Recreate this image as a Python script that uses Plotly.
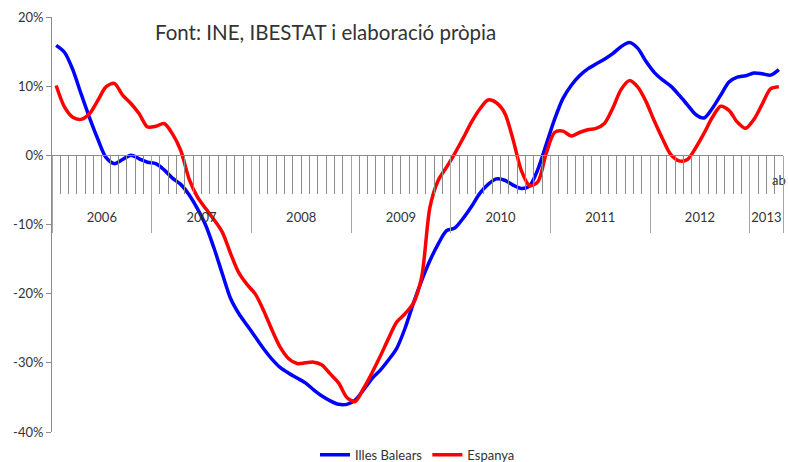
import plotly.graph_objects as go

years = ["2006", "2007", "2008", "2009", "2010", "2011", "2012", "2013"]
months_per_year = [12, 12, 12, 12, 12, 12, 12, 4]
month_labels = [""] * 87 + ["ab"]

illes_balears = [
    15.9, 14.9, 12.4, 8.9, 5.5, 2.4, -0.3, -1.2, -0.6, 0.0, -0.5, -1.0,
    -1.2, -2.1, -3.3, -4.2, -5.7, -7.7, -10.1, -13.4, -17.1, -20.7, -22.9, -24.6,
    -26.3, -28.0, -29.5, -30.7, -31.5, -32.2, -32.9, -33.9, -34.8, -35.5, -36.0, -36.0,
    -35.4, -33.9, -32.3, -31.1, -29.6, -27.9, -25.0, -21.4, -18.1, -15.2, -12.8, -10.9,
    -10.5, -9.1, -7.4, -5.5, -4.2, -3.4, -3.6, -4.3, -4.8, -4.4, -2.0, 1.6,
    5.2, 8.2, 10.1, 11.5, 12.5, 13.2, 13.9, 14.7, 15.7, 16.3, 15.5, 13.6,
    12.0, 10.9, 10.0, 8.7, 7.3, 5.9, 5.4, 6.8, 8.7, 10.6, 11.3, 11.5,
    11.9, 11.8, 11.6, 12.4,
]
espanya = [
    10.1, 7.0, 5.5, 5.2, 6.0, 7.9, 9.9, 10.4, 8.7, 7.5, 6.0, 4.1,
    4.2, 4.6, 3.1, 0.7, -3.4, -6.0, -7.7, -9.3, -11.1, -14.2, -17.0, -18.7,
    -20.1, -22.5, -25.3, -27.8, -29.4, -30.1, -30.0, -29.9, -30.3, -31.6, -32.9, -35.0,
    -35.6, -33.7, -31.5, -29.1, -26.5, -24.1, -22.9, -21.4, -17.6, -7.5, -3.6, -1.7,
    0.3, 2.5, 4.8, 6.7, 8.0, 7.6, 6.1, 2.3, -2.2, -4.4, -3.8, 0.3,
    3.3, 3.5, 2.8, 3.3, 3.7, 3.9, 4.6, 6.8, 9.5, 10.8, 9.9, 7.8,
    5.0, 2.4, 0.1, -0.8, -0.6, 1.1, 3.2, 5.5, 7.1, 6.5, 4.8, 3.9,
    5.2, 7.4, 9.6, 9.9,
]
y_ticks = [-40, -30, -20, -10, 0, 10, 20]
y_ticktext = ["-40%", "-30%", "-20%", "-10%", "0%", "10%", "20%"]

n = len(illes_balears)
idx = list(range(n))
month_bounds = [i - 0.5 for i in range(n + 1)]
year_bounds = [-0.5]
year_centers = []
acc = 0
for m in months_per_year:
    year_centers.append(acc + (m - 1) / 2)
    acc += m
    year_bounds.append(acc - 0.5)

FONT = "Lato"
TXT = "#333333"
AX = "#8c8c8c"

fig = go.Figure()
fig.add_trace(go.Scatter(x=idx, y=illes_balears, name="Illes Balears", mode="lines",
                         line=dict(color="#0000ff", width=3.5, shape="spline", smoothing=0.8)))
fig.add_trace(go.Scatter(x=idx, y=espanya, name="Espanya", mode="lines",
                         line=dict(color="#ff0000", width=3.5, shape="spline", smoothing=0.8)))

zero_pos = (0 - (-40)) / 60.0

fig.update_layout(
    width=788, height=462,
    margin=dict(l=52, r=5, t=17, b=30, autoexpand=False),
    paper_bgcolor="white", plot_bgcolor="white",
    font=dict(family=FONT, size=13, color=TXT),
    showlegend=True,
    legend=dict(orientation="h", x=0.5, xanchor="center", y=-0.055, yanchor="middle",
                font=dict(family=FONT, size=13, color=TXT), itemwidth=30),
    xaxis=dict(
        range=[-0.5, n - 0.5], anchor="free", position=zero_pos, automargin=False,
        showline=True, linecolor=AX, linewidth=1, showgrid=False, zeroline=False,
        tickmode="array", tickvals=idx, ticktext=month_labels, ticks="",
        ticklabelstandoff=13, tickfont=dict(family=FONT, size=13, color=TXT),
        minor=dict(tickmode="array", tickvals=month_bounds, ticks="outside",
                   ticklen=38, tickcolor=AX, tickwidth=1, showgrid=False),
    ),
    xaxis2=dict(
        range=[-0.5, n - 0.5], overlaying="x", anchor="free", position=zero_pos,
        automargin=False, showline=False, showgrid=False, zeroline=False,
        tickmode="array", tickvals=year_centers, ticktext=years, ticks="",
        ticklabelstandoff=53, tickfont=dict(family=FONT, size=13, color=TXT),
        minor=dict(tickmode="array", tickvals=year_bounds, ticks="outside",
                   ticklen=77, tickcolor="#a6a6a6", tickwidth=1, showgrid=False),
    ),
    yaxis=dict(
        range=[-40, 20], domain=[0, 1], automargin=False, showline=True,
        linecolor=AX, linewidth=1, showgrid=False, zeroline=False,
        tickmode="array", tickvals=y_ticks, ticktext=y_ticktext,
        ticks="outside", ticklen=5, tickcolor=AX,
        tickfont=dict(family=FONT, size=13, color=TXT),
    ),
    annotations=[dict(
        text="Font: INE, IBESTAT i elaboració pròpia", xref="paper", yref="paper",
        x=0.138, y=0.964, xanchor="left", yanchor="middle", showarrow=False,
        font=dict(family=FONT, size=20.5, color=TXT),
    )],
)
# invisible trace so the year axis (xaxis2) is drawn
fig.add_trace(go.Scatter(x=[0], y=[0], xaxis="x2", mode="none", showlegend=False, hoverinfo="skip"))

fig.write_html("out.html", config={"displayModeBar": False},
               post_script="document.body.style.margin='0px';")
